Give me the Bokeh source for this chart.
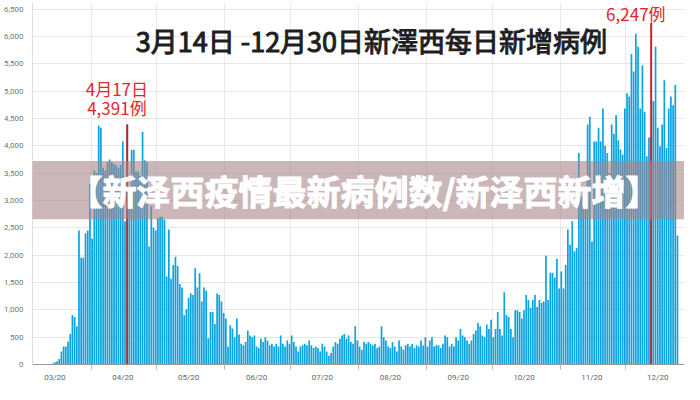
from bokeh.plotting import figure
from bokeh.models import FixedTicker, Label, BoxAnnotation, Range1d, NumeralTickFormatter
from bokeh.embed import file_html
from bokeh.resources import INLINE

# ---- data -------------------------------------------------------------
start_date = "2020-03-14"          # day 0
cases = [
    20, 40, 60, 100, 240, 330, 330, 420, 560, 900,
    870, 700, 2450, 1950, 1950, 2400, 2450, 3300, 2300, 3550,
    3500, 4370, 4330, 3600, 3550, 3700, 3750, 3700, 3670, 3650,
    3600, 3650, 4080, 2620, 4391, 3100, 3925, 3925, 3530, 3530,
    3450, 4250, 3735, 3700, 2160, 2900, 2500, 2450, 2670, 2700,
    2700, 2650, 1610, 2470, 1570, 1820, 1970, 1800, 1470, 1410,
    900, 1010, 1220, 1300, 1270, 1760, 1410, 1670, 1150, 1410,
    1350, 480, 960, 960, 740, 1300, 1270, 1150, 940, 840,
    330, 720, 660, 500, 840, 550, 380, 350, 410, 620,
    530, 500, 530, 330, 300, 470, 410, 500, 440, 350,
    380, 330, 380, 330, 530, 380, 330, 440, 380, 530,
    410, 330, 240, 330, 350, 380, 350, 440, 350, 300,
    330, 300, 240, 380, 330, 240, 160, 210, 330, 410,
    380, 470, 530, 560, 470, 530, 410, 380, 700, 440,
    330, 270, 410, 380, 410, 380, 350, 380, 300, 330,
    700, 500, 440, 330, 300, 410, 330, 240, 440, 330,
    270, 350, 380, 330, 380, 300, 350, 330, 440, 350,
    500, 330, 440, 500, 330, 350, 350, 300, 380, 530,
    500, 330, 380, 330, 500, 440, 650, 530, 500, 440,
    380, 440, 560, 620, 760, 700, 530, 500, 730, 650,
    820, 500, 650, 960, 650, 530, 1320, 900, 870, 650,
    500, 990, 990, 960, 840, 990, 1270, 1180, 1040, 1180,
    1270, 1050, 1180, 1130, 1150, 1990, 1180, 1680, 1680, 1590,
    1930, 1390, 1700, 1390, 1820, 2470, 2190, 2620, 2070, 2130,
    3870, 3070, 2900, 2840, 4390, 4530, 2250, 4080, 4080, 4330,
    4080, 4680, 4000, 3870, 3500, 4390, 4220, 4560, 4100, 3930,
    3840, 4680, 4960, 4900, 5680, 5360, 6050, 5810, 4680, 5470,
    4620, 3810, 4150, 4170, 4820, 5810, 4330, 3990, 4390, 5200,
    3960, 4680, 4900, 4740, 5110, 2360,
]
days = list(range(len(cases)))

# month label positions (15th of month, as day index) and month starts
month_mid_days = [1, 32, 62, 93, 123, 154, 185, 215, 246, 276]
month_labels = ["03/20", "04/20", "05/20", "06/20", "07/20",
                "08/20", "09/20", "10/20", "11/20", "12/20"]
month_start_days = [-13, 18, 48, 79, 109, 140, 171, 201, 232, 262]

y_ticks = list(range(0, 6501, 500))

# highlighted days
marker_days = [34, 273]
marker_values = [4391, 6247]
marker_date_text = ["4月17日", ""]
marker_value_text = ["4,391例", "6,247例"]

title_text = "3月14日 -12月30日新澤西每日新增病例"
banner_text = "【新泽西疫情最新病例数/新泽西新增】"

# ---- figure -----------------------------------------------------------
p = figure(width=684, height=384, output_backend="svg", toolbar_location=None,
           x_range=Range1d(-9.2, 288.2), y_range=Range1d(0, 6620),
           min_border_top=2, min_border_right=0, min_border_left=2, min_border_bottom=2)
p.outline_line_color = None
p.background_fill_color = "white"
p.border_fill_color = "white"

p.vbar(x=days, top=cases, width=0.78, color="#0ba3e2", line_color=None)

# red marker lines
p.segment(x0=marker_days, y0=[0] * len(marker_days), x1=marker_days, y1=marker_values,
          line_color="#c0272d", line_width=2)

# axes
p.xaxis.ticker = FixedTicker(ticks=month_mid_days,
                             minor_ticks=[d - 0.5 for d in month_start_days])
p.xaxis.major_label_overrides = {d: s for d, s in zip(month_mid_days, month_labels)}
p.xaxis.major_tick_line_color = None
p.xaxis.minor_tick_line_color = "#bbbbbb"
p.xaxis.minor_tick_in = 0
p.xaxis.minor_tick_out = 5
p.xaxis.axis_line_color = "#9a9a9a"
p.xaxis.major_label_text_font_size = "8px"
p.xaxis.major_label_text_color = "#666666"
p.xaxis.major_label_standoff = 2
p.xaxis.major_label_text_font = "Roboto"

p.yaxis.ticker = FixedTicker(ticks=y_ticks)
p.yaxis.formatter = NumeralTickFormatter(format="0,0")
p.yaxis.major_tick_line_color = None
p.yaxis.minor_tick_line_color = None
p.yaxis.axis_line_color = "#dddddd"
p.yaxis.major_label_text_font_size = "8px"
p.yaxis.major_label_text_color = "#777777"
p.yaxis.major_label_standoff = 3
p.yaxis.major_label_text_font = "Roboto"

p.xgrid.ticker = FixedTicker(ticks=[d - 0.5 for d in month_start_days])
p.xgrid.grid_line_color = "#e9e9e9"
p.ygrid.grid_line_color = "#e6e6e6"

# title inside the plot
p.add_layout(Label(x=145.4, y=5930, text=title_text, text_align="center",
                   text_baseline="middle", text_font="Noto Sans CJK TC",
                   text_font_size="27px", text_color="#1e1e1e",
                   text_outline_color="#1e1e1e"))

# marker annotations
red = "#e3262c"
for x, y, t in [(29.3, 5056, marker_date_text[0]),
                (29.3, 4696, marker_value_text[0]),
                (266, 6427, marker_value_text[1])]:
    p.add_layout(Label(x=x, y=y, text=t, text_align="center",
                       text_baseline="middle", text_font="Noto Sans CJK SC",
                       text_font_size="17px", text_color=red))

# translucent banner
p.add_layout(BoxAnnotation(left=-40, right=320, bottom=2657, top=3720,
                           fill_color="#a68287", fill_alpha=0.58,
                           line_color=None, level="overlay"))
p.add_layout(Label(x=142, y=3188, text=banner_text, text_align="center",
                   text_baseline="middle", text_font="Noto Sans CJK SC",
                   text_font_size="34px", text_font_style="bold", text_color="white",
                   text_outline_color="white", level="overlay"))

open("out.html", "w").write(file_html(p, INLINE))
